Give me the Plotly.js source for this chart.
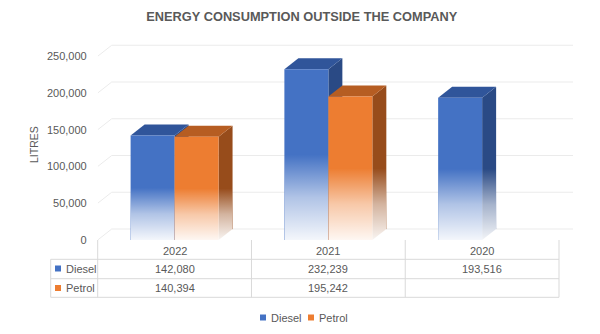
<!DOCTYPE html>
<html>
<head>
<meta charset="utf-8">
<script src="https://cdn.plot.ly/plotly-3.0.1.min.js"></script>
<style>html,body{margin:0;padding:0;background:#fff;}#chart{width:600px;height:334px;}</style>
</head>
<body>
<div id="chart"></div>
<script>
// ---- data ----
const categories = ['2022', '2021', '2020'];
const diesel = [142080, 232239, 193516];
const petrol = [140394, 195242, null];
const seriesNames = ['Diesel', 'Petrol'];
const yTicks = [0, 50000, 100000, 150000, 200000, 250000];

// ---- style ----
const W = 600, H = 334;
const FONT = 'Liberation Sans, Arial, sans-serif';
const TXT = '#595959';
const GRID = '#ebebeb';
const BORDER = '#d9d9d9';
const front = ['#4472C4', '#ED7D31'];
const topC = ['#30559A', '#B65D22'];
const sideC = ['#2A4A85', '#974C1B'];

const xLeftPx = 97.7, catPx = 153.77;           // category axis geometry
const yZeroPx = 240, yScale = 183.75 / 250000;  // px per unit
const xRange = [-0.5, 2.6], yRange = [0, 270000];
const xDom = [xLeftPx / W, (xLeftPx + (xRange[1] - xRange[0]) * catPx) / W];
const yDom = [1 - yZeroPx / H, 1 - (yZeroPx - yRange[1] * yScale) / H];
const barW = 0.286;
const dX = 14 / catPx;        // depth offset in x units
const dY = 11 / yScale;       // depth offset in y units
const px = v => v / W, py = v => 1 - v / H;

const fadeSrc = 'data:image/svg+xml;charset=utf-8,' + encodeURIComponent(
  '<svg xmlns="http://www.w3.org/2000/svg" width="10" height="10" viewBox="0 0 10 10" preserveAspectRatio="none">' +
  '<defs><linearGradient id="g" x1="0" y1="0" x2="0" y2="1">' +
  '<stop offset="0" stop-color="#fff" stop-opacity="0"/>' +
  '<stop offset="0.5" stop-color="#fff" stop-opacity="0.58"/>' +
  '<stop offset="1" stop-color="#fff" stop-opacity="0.94"/>' +
  '</linearGradient></defs><rect width="10" height="10" fill="url(#g)"/></svg>');

const series = [diesel, petrol];
const idx = categories.map((c, i) => i);

const traces = series.map((vals, s) => ({
  type: 'bar', name: seriesNames[s], x: idx, y: vals,
  width: barW, offset: s === 0 ? -barW : 0,
  marker: {color: front[s], line: {width: 0}},
  showlegend: false, hoverinfo: 'skip'
}));

const shapes = [];
// back wall gridlines + left wall slants
yTicks.forEach(t => {
  shapes.push({type: 'line', xref: 'x', yref: 'y', x0: xRange[0] + dX, x1: 2.5 + dX, y0: t + dY, y1: t + dY,
    line: {color: GRID, width: 1}, layer: 'below'});
  shapes.push({type: 'line', xref: 'x', yref: 'y', x0: -0.5, x1: -0.5 + dX, y0: t, y1: t + dY,
    line: {color: GRID, width: 1}, layer: 'below'});
});
// 3D faces
const images = [];
idx.forEach(i => {
  series.forEach((vals, s) => {
    const v = vals[i];
    if (v == null) return;
    const x0 = s === 0 ? i - barW : i, x1 = x0 + barW;
    shapes.push({type: 'path', xref: 'x', yref: 'y', layer: 'below', line: {width: 0}, fillcolor: sideC[s],
      path: `M${x1},0 L${x1},${v} L${x1 + dX},${v + dY} L${x1 + dX},${dY} Z`});
    shapes.push({type: 'path', xref: 'x', yref: 'y', layer: 'below', line: {width: 0}, fillcolor: topC[s],
      path: `M${x0},${v} L${x1},${v} L${x1 + dX},${v + dY} L${x0 + dX},${v + dY} Z`});
    const neighbour = s === 0 && petrol[i] != null;
    images.push({source: fadeSrc, xref: 'x', yref: 'y', x: x0, y: v * 0.5,
      sizex: barW + (neighbour ? 0 : dX), sizey: v * 0.5,
      xanchor: 'left', yanchor: 'top', sizing: 'stretch', layer: 'above'});
  });
});

// data table
const tL = 50.7, tH = 97.7, tR = 559, rowY = [240, 259.3, 278.7, 297.3];
const colX = [tH].concat(idx.map(i => xLeftPx + catPx * (i + 1)));
colX.forEach(x => shapes.push({type: 'line', xref: 'paper', yref: 'paper', x0: px(x), x1: px(x),
  y0: py(rowY[0]), y1: py(rowY[3]), line: {color: BORDER, width: 1}}));
shapes.push({type: 'line', xref: 'paper', yref: 'paper', x0: px(tL), x1: px(tL),
  y0: py(rowY[1]), y1: py(rowY[3]), line: {color: BORDER, width: 1}});
[1, 2, 3].forEach(r => shapes.push({type: 'line', xref: 'paper', yref: 'paper', x0: px(tL), x1: px(tR),
  y0: py(rowY[r]), y1: py(rowY[r]), line: {color: BORDER, width: 1}}));

const annotations = [];
const tf = {family: FONT, size: 11, color: TXT};
categories.forEach((c, i) => annotations.push({xref: 'x', yref: 'paper', x: i, y: py(251),
  text: c, showarrow: false, font: tf, xanchor: 'center', yanchor: 'middle'}));
const rowMid = [268.5, 288];
series.forEach((vals, s) => {
  shapes.push({type: 'rect', xref: 'paper', yref: 'paper', x0: px(55), x1: px(61),
    y0: py(rowMid[s] + 3), y1: py(rowMid[s] - 3), fillcolor: front[s], line: {width: 0}});
  annotations.push({xref: 'paper', yref: 'paper', x: px(63.5), y: py(rowMid[s]), text: seriesNames[s],
    showarrow: false, font: tf, xanchor: 'left', yanchor: 'middle'});
  vals.forEach((v, i) => {
    if (v == null) return;
    annotations.push({xref: 'x', yref: 'paper', x: i, y: py(rowMid[s]), text: v.toLocaleString('en-US'),
      showarrow: false, font: tf, xanchor: 'center', yanchor: 'middle'});
  });
});
// legend
const legX = [260, 308];
series.forEach((vals, s) => {
  shapes.push({type: 'rect', xref: 'paper', yref: 'paper', x0: px(legX[s]), x1: px(legX[s] + 6),
    y0: py(320.5), y1: py(314.5), fillcolor: front[s], line: {width: 0}});
  annotations.push({xref: 'paper', yref: 'paper', x: px(legX[s] + 9), y: py(317.5), text: seriesNames[s],
    showarrow: false, font: tf, xanchor: 'left', yanchor: 'middle'});
});
// y axis title
annotations.push({xref: 'paper', yref: 'paper', x: px(34), y: py(145), text: 'LITRES', textangle: -90,
  showarrow: false, font: {family: FONT, size: 10.5, color: TXT}, xanchor: 'center', yanchor: 'middle'});

const layout = {
  width: W, height: H,
  margin: {l: 0, r: 0, t: 0, b: 0, pad: 0},
  paper_bgcolor: '#ffffff', plot_bgcolor: 'rgba(0,0,0,0)',
  title: {text: 'ENERGY CONSUMPTION OUTSIDE THE COMPANY', x: 0.503, xanchor: 'center', y: py(16.5), yanchor: 'middle',
    font: {family: FONT, size: 12.8, color: TXT, weight: 'bold'}},
  showlegend: false,
  barmode: 'overlay',
  xaxis: {domain: xDom, range: xRange, showticklabels: false, showgrid: false, zeroline: false, showline: false, ticks: '', fixedrange: true},
  yaxis: {domain: yDom, range: yRange, tickvals: yTicks, ticktext: yTicks.map(t => t.toLocaleString('en-US')),
    showgrid: false, zeroline: false, showline: false, ticks: '', ticklabelstandoff: 10,
    tickfont: {family: FONT, size: 11, color: TXT}, fixedrange: true},
  shapes: shapes, images: images, annotations: annotations
};

Plotly.newPlot('chart', traces, layout, {staticPlot: true, displayModeBar: false});
</script>
</body>
</html>
